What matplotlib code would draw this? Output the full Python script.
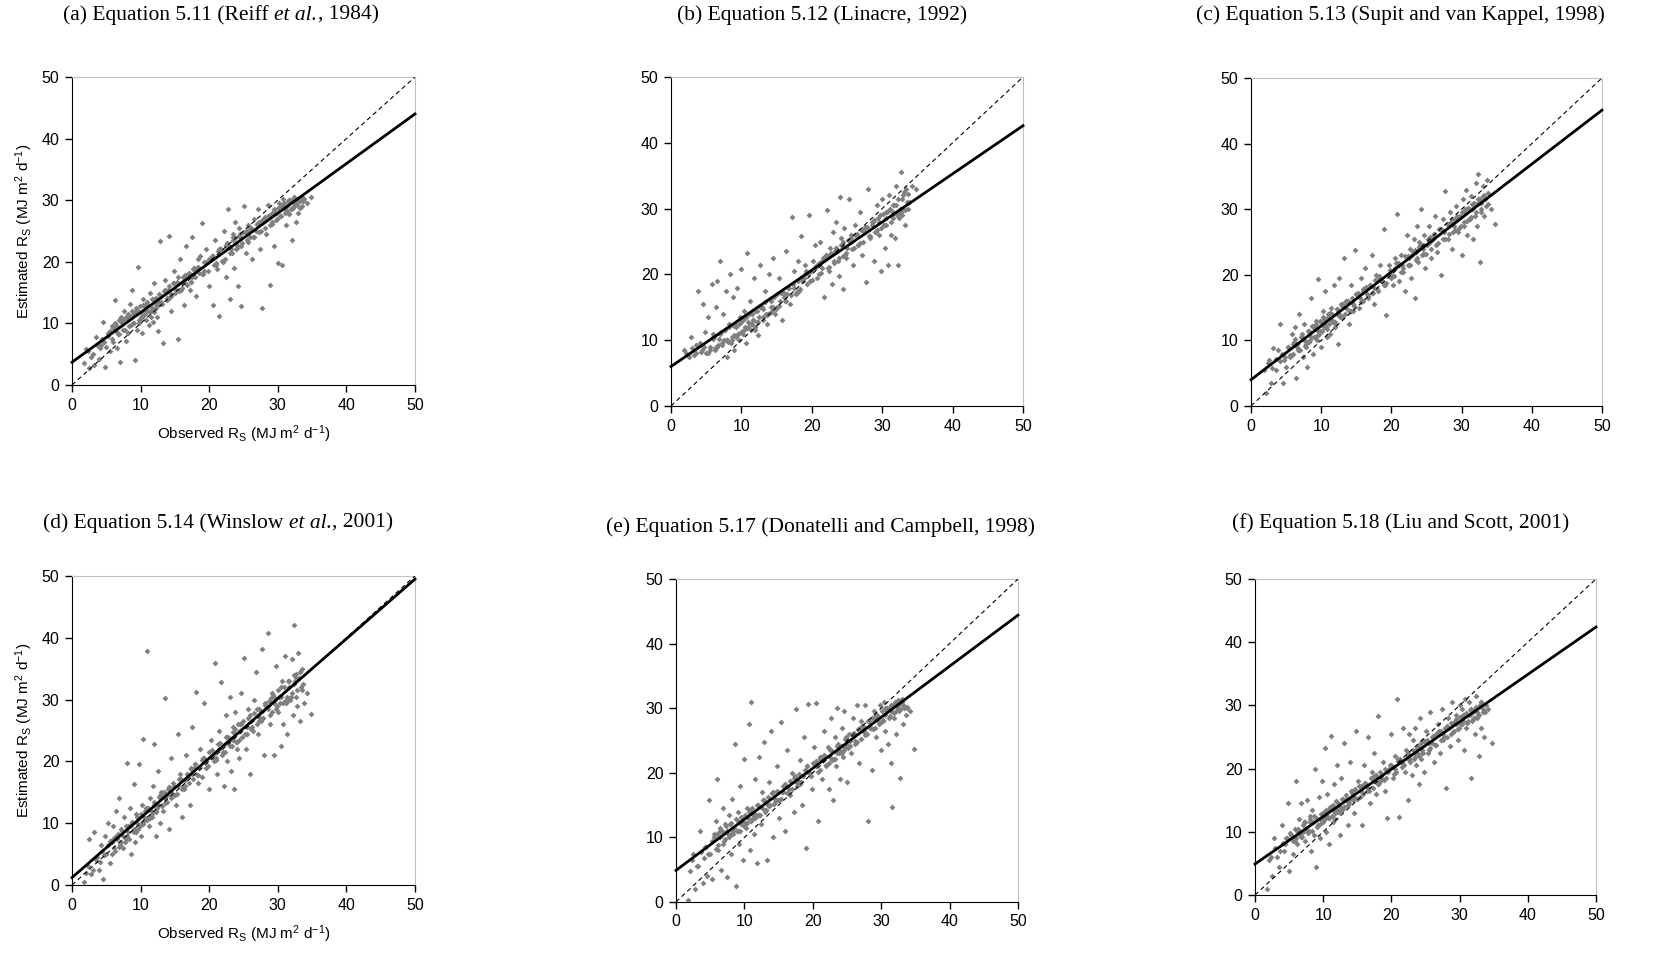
import numpy as np
import matplotlib
matplotlib.use('Agg')
import matplotlib.pyplot as plt

plt.rcParams['font.family'] = 'Liberation Sans'
plt.rcParams['mathtext.default'] = 'regular'

# observed Rs (same days for every panel)
observed = [
    1.8, 2.1, 2.5, 2.8, 3.2, 3.5, 3.9, 4.2, 4.5, 4.8,
    5.0, 5.3, 5.5, 5.8, 6.0, 6.2, 6.4, 6.6, 6.8, 7.0,
    7.2, 7.4, 7.6, 7.8, 8.0, 8.2, 8.4, 8.6, 8.8, 9.0,
    9.2, 9.4, 9.6, 9.8, 10.0, 10.2, 10.4, 10.6, 10.8, 11.0,
    11.2, 11.4, 11.6, 11.8, 12.0, 12.2, 12.4, 12.6, 12.8, 13.0,
    13.3, 13.6, 13.9, 14.2, 14.5, 14.8, 15.1, 15.4, 15.7, 16.0,
    16.3, 16.6, 16.9, 17.2, 17.5, 17.8, 18.1, 18.4, 18.7, 19.0,
    19.3, 19.6, 19.9, 20.2, 20.5, 20.8, 21.1, 21.4, 21.7, 22.0,
    22.2, 22.4, 22.6, 22.8, 23.0, 23.2, 23.4, 23.6, 23.8, 24.0,
    24.2, 24.4, 24.6, 24.8, 25.0, 25.3, 25.6, 25.9, 26.2, 26.5,
    26.8, 27.1, 27.4, 27.7, 28.0, 28.3, 28.6, 28.9, 29.2, 29.5,
    29.8, 30.0, 30.2, 30.4, 30.6, 30.8, 31.0, 31.2, 31.4, 31.6,
    31.8, 32.0, 32.2, 32.4, 32.6, 32.8, 33.0, 33.2, 33.4, 33.6,
    6.5, 7.5, 8.5, 9.5, 10.5, 11.5, 12.5, 13.5, 14.5, 15.5,
    16.5, 17.5, 18.5, 19.5, 20.5, 21.5, 22.5, 23.5, 24.5, 25.5,
    27.5, 28.5, 29.5, 30.5, 31.5, 32.5, 33.8, 34.2, 34.8, 12.0,
    5.2, 5.9, 6.3, 6.9, 7.3, 7.7, 8.1, 8.3, 8.7, 9.1,
    9.3, 9.7, 9.9, 10.1, 10.3, 10.7, 10.9, 11.1, 11.3, 11.7,
    11.9, 12.3, 12.7, 13.1, 13.4, 13.8, 14.1, 14.4, 14.7, 15.0,
    15.3, 15.9, 16.2, 16.7, 17.0, 17.3, 17.7, 18.0, 18.3, 18.9,
    19.2, 19.8, 20.4, 21.0, 21.6, 22.3, 22.7, 23.1, 23.5, 23.9,
    24.3, 24.7, 25.2, 25.7, 26.1, 26.6, 27.0, 27.3, 27.9, 28.2,
    28.7, 29.1, 29.4, 29.9, 30.1, 30.3, 30.9, 31.3, 31.7, 32.1,
    32.3, 32.7, 33.1, 33.5, 2.4, 3.0, 3.6, 4.1, 4.4, 4.7,
    5.6, 6.1, 6.7, 7.1, 7.9, 8.9, 9.5, 10.4, 10.8, 11.5,
    12.2, 12.9, 13.6, 14.2, 14.9, 15.6, 16.4, 17.4, 18.2, 19.1,
    20.0, 20.7, 21.3, 21.9, 22.5, 23.3, 23.7, 24.1, 24.9, 25.5,
    26.0, 26.4, 26.9, 27.6, 28.1, 28.8, 29.3, 29.7, 30.5, 31.1,
    31.5, 31.9, 32.4, 32.8, 33.2, 33.7, 6.0, 8.0, 10.0, 14.0,
    16.0, 18.0, 21.0, 24.5, 27.2, 29.0, 30.7, 32.6, 9.0, 13.0]

est_a = [
    3.5, 5.8, 2.8, 4.5, 3.2, 7.8, 4.2, 6.5, 10.3, 3.0,
    6.2, 8.0, 5.5, 9.5, 7.0, 13.8, 8.8, 6.0, 10.5, 3.8,
    11.0, 9.0, 12.0, 7.2, 10.8, 8.5, 13.2, 9.8, 15.5, 11.5,
    4.0, 12.5, 19.2, 10.0, 11.8, 8.5, 14.0, 12.2, 10.5, 13.0,
    9.8, 15.0, 12.5, 10.2, 16.5, 13.0, 11.0, 8.8, 23.3, 14.5,
    6.8, 17.0, 14.2, 24.2, 12.0, 18.5, 15.5, 7.5, 20.5, 16.8,
    13.0, 22.5, 18.0, 15.5, 24.0, 19.0, 14.5, 20.5, 21.0, 26.3,
    18.5, 22.0, 16.0, 20.5, 13.0, 23.5, 18.8, 11.2, 22.0, 20.0,
    25.0, 17.5, 23.0, 28.5, 14.0, 22.0, 24.5, 19.0, 26.5, 22.8,
    16.0, 25.5, 12.8, 23.0, 29.0, 21.5, 26.0, 24.0, 20.5, 27.0,
    25.0, 28.5, 22.0, 12.5, 27.0, 24.5, 29.2, 16.3, 26.5, 22.5,
    28.0, 19.8, 29.5, 27.5, 19.5, 30.2, 28.5, 26.0, 29.0, 27.8,
    30.0, 23.5, 28.8, 29.5, 26.5, 30.0, 28.0, 29.8, 30.5, 29.0,
    9.5, 10.5, 11.2, 9.0, 12.8, 11.0, 13.5, 15.2, 14.8, 17.5,
    16.5, 17.5, 18.2, 20.0, 21.0, 22.0, 22.5, 24.0, 24.5, 25.0,
    26.5, 27.5, 28.5, 29.0, 28.0, 29.2, 30.2, 29.5, 30.5, 11.8,
    8.5, 7.5, 10.0, 8.2, 10.5, 9.0, 11.5, 9.5, 12.0, 10.0,
    12.0, 10.5, 12.8, 11.0, 13.0, 11.5, 13.5, 12.0, 11.8, 14.0,
    14.0, 12.5, 14.8, 13.2, 15.2, 13.8, 16.0, 14.5, 16.5, 15.0,
    16.8, 15.5, 17.5, 16.2, 18.2, 16.8, 18.8, 17.5, 19.2, 18.0,
    20.0, 18.5, 21.0, 19.5, 22.0, 20.5, 22.8, 21.5, 23.5, 22.0,
    24.2, 22.5, 24.8, 23.2, 25.5, 24.0, 26.2, 24.8, 27.0, 25.5,
    27.5, 26.2, 28.2, 27.0, 28.8, 27.5, 29.5, 28.2, 30.0, 28.8,
    30.2, 29.5, 29.8, 30.5, 5.5, 5.0, 6.5, 6.0, 7.5, 7.0,
    8.8, 9.5, 8.2, 10.2, 11.0, 10.0, 12.2, 11.2, 13.2, 12.0,
    14.2, 13.2, 15.5, 14.2, 16.5, 15.2, 17.8, 16.8, 19.0, 18.0,
    20.5, 19.5, 21.8, 20.2, 22.8, 21.5, 23.8, 22.2, 24.8, 23.5,
    25.5, 24.0, 26.2, 25.0, 27.2, 26.0, 28.0, 26.8, 29.0, 28.0,
    29.8, 28.5, 30.5, 29.2, 28.8, 29.8, 9.2, 10.8, 10.8, 15.5,
    15.8, 18.8, 19.8, 24.0, 26.5, 27.8, 29.2, 30.2, 11.5, 13.5]

est_b = [
    8.5, 8.0, 7.5, 10.5, 7.8, 9.2, 17.5, 8.2, 15.5, 11.2,
    8.0, 13.5, 9.0, 18.5, 11.0, 8.5, 15.0, 19.0, 10.2, 22.0,
    9.5, 14.0, 11.5, 17.5, 7.5, 12.5, 20.0, 10.0, 16.5, 8.5,
    12.0, 18.0, 10.0, 13.5, 20.8, 11.0, 14.5, 9.5, 23.2, 12.8,
    16.0, 11.5, 13.0, 19.5, 12.0, 14.5, 10.8, 21.5, 15.0, 13.0,
    17.5, 12.5, 20.0, 15.0, 22.5, 14.0, 17.0, 19.5, 13.0, 16.5,
    23.5, 18.0, 15.5, 28.7, 20.5, 17.0, 22.0, 25.8, 19.0, 21.5,
    18.5, 29.0, 20.5, 22.0, 24.5, 19.5, 25.0, 21.0, 16.5, 23.0,
    29.8, 20.5, 24.0, 18.5, 26.5, 22.0, 28.0, 23.5, 19.8, 31.8,
    25.5, 17.8, 27.0, 22.5, 24.0, 31.5, 26.0, 21.5, 27.5, 24.5,
    29.5, 23.0, 27.0, 18.8, 33.0, 25.5, 28.0, 22.0, 30.5, 26.0,
    20.5, 31.5, 27.5, 24.0, 29.5, 21.5, 32.0, 26.0, 29.0, 30.5,
    25.5, 33.5, 21.5, 28.5, 35.5, 29.0, 32.0, 27.5, 33.0, 30.0,
    9.0, 10.0, 9.5, 11.0, 12.0, 12.5, 13.5, 14.0, 15.0, 16.0,
    17.0, 18.0, 19.5, 20.0, 21.0, 22.0, 23.0, 24.0, 25.0, 25.0,
    26.5, 27.5, 28.0, 28.5, 29.5, 30.0, 31.0, 33.5, 33.0, 11.5,
    8.0, 10.5, 8.8, 11.0, 9.2, 11.5, 9.8, 12.0, 10.5, 12.5,
    10.5, 12.5, 11.2, 13.0, 11.5, 13.5, 12.0, 14.0, 12.5, 13.0,
    14.5, 12.8, 15.0, 13.5, 15.8, 14.0, 16.2, 14.5, 16.5, 15.0,
    15.2, 17.2, 16.0, 18.0, 16.8, 18.5, 17.2, 19.0, 17.8, 19.5,
    20.5, 19.0, 21.2, 20.0, 22.5, 21.0, 23.2, 21.8, 24.0, 22.5,
    24.5, 23.0, 25.2, 23.8, 26.0, 24.5, 26.8, 25.0, 27.2, 25.8,
    28.0, 26.5, 28.5, 27.0, 29.2, 27.5, 29.8, 28.0, 30.5, 29.0,
    31.5, 30.0, 32.5, 31.0, 7.8, 8.8, 8.0, 9.5, 8.5, 9.0,
    8.5, 10.5, 9.2, 11.2, 10.0, 12.2, 11.0, 13.2, 11.8, 14.0,
    12.8, 15.0, 13.8, 16.0, 14.8, 17.2, 16.0, 18.5, 17.5, 20.0,
    19.2, 21.5, 20.2, 22.5, 21.2, 23.5, 22.0, 24.5, 23.2, 25.5,
    24.0, 26.2, 24.8, 27.2, 25.8, 28.2, 26.8, 29.0, 27.5, 30.0,
    28.5, 30.5, 29.2, 31.5, 29.8, 32.2, 10.2, 10.0, 12.8, 14.2,
    17.2, 17.5, 21.8, 22.8, 26.8, 26.5, 29.5, 29.5, 10.8, 14.8]

est_c = [
    5.5, 2.0, 7.0, 3.5, 8.8, 5.5, 8.5, 12.5, 3.5, 7.5,
    6.0, 9.0, 7.5, 11.0, 8.0, 12.0, 4.2, 9.5, 14.0, 8.5,
    10.5, 7.5, 12.5, 9.0, 6.0, 11.5, 10.0, 16.5, 8.0, 12.0,
    13.0, 10.0, 19.3, 11.5, 9.0, 14.5, 12.0, 17.5, 10.5, 13.5,
    11.0, 15.0, 13.0, 18.5, 12.0, 14.0, 9.5, 19.5, 15.5, 13.5,
    22.5, 16.0, 12.5, 18.5, 14.5, 23.8, 17.0, 15.0, 19.5, 17.5,
    21.0, 16.5, 18.5, 23.0, 15.5, 20.0, 17.5, 21.5, 19.0, 27.0,
    13.8, 21.5, 20.0, 18.5, 22.5, 29.2, 19.0, 23.0, 21.0, 17.5,
    26.0, 21.5, 24.0, 19.5, 23.0, 25.5, 16.5, 27.5, 22.0, 25.0,
    30.0, 23.0, 26.0, 21.0, 24.5, 27.5, 22.5, 25.5, 29.0, 23.5,
    27.0, 20.0, 28.5, 32.8, 25.5, 29.5, 24.0, 27.5, 30.5, 26.5,
    29.0, 23.0, 31.5, 27.5, 33.0, 26.0, 30.0, 28.5, 32.0, 25.5,
    30.5, 34.0, 27.5, 35.3, 22.0, 31.0, 33.5, 29.0, 31.5, 34.5,
    9.0, 10.0, 10.5, 11.5, 12.5, 13.0, 14.0, 15.0, 15.5, 16.5,
    17.0, 18.0, 19.0, 20.0, 21.0, 21.5, 22.5, 23.5, 24.0, 25.0,
    26.5, 28.0, 28.5, 29.5, 30.0, 31.5, 32.5, 30.0, 27.8, 12.5,
    9.0, 7.8, 10.2, 8.5, 11.0, 9.2, 11.5, 9.8, 12.2, 10.5,
    12.5, 11.0, 13.0, 11.5, 13.5, 12.0, 14.0, 12.5, 14.2, 13.0,
    12.8, 14.8, 13.5, 15.5, 14.0, 16.0, 14.5, 16.5, 15.2, 17.0,
    17.2, 16.0, 18.0, 16.8, 18.5, 17.2, 19.2, 17.8, 19.5, 18.5,
    18.8, 20.8, 19.8, 21.8, 20.5, 22.8, 21.5, 23.5, 22.2, 24.2,
    24.5, 23.2, 25.5, 24.0, 26.2, 24.8, 27.0, 25.5, 27.8, 26.2,
    28.5, 26.8, 29.0, 27.5, 29.5, 28.0, 30.2, 28.8, 31.0, 29.5,
    31.0, 29.5, 32.0, 30.5, 6.5, 5.8, 7.2, 6.8, 8.0, 7.0,
    7.8, 9.8, 8.5, 10.5, 9.5, 12.0, 10.8, 13.2, 11.8, 14.0,
    14.8, 13.5, 16.0, 14.5, 17.0, 15.8, 18.2, 17.2, 19.8, 18.5,
    19.5, 21.8, 20.5, 22.8, 21.5, 23.8, 22.5, 24.5, 23.2, 25.8,
    26.2, 24.5, 27.0, 25.5, 27.8, 26.5, 28.8, 27.2, 30.0, 28.5,
    30.8, 29.0, 31.5, 30.0, 32.2, 30.8, 9.5, 9.8, 12.8, 14.5,
    17.8, 17.8, 21.8, 23.2, 26.8, 28.5, 28.2, 31.5, 10.5, 15.2]

est_d = [
    0.5, 2.0, 7.5, 1.8, 8.5, 4.0, 2.5, 6.5, 1.0, 8.0,
    5.0, 10.0, 3.5, 7.0, 9.5, 5.5, 12.0, 8.0, 14.0, 6.5,
    9.0, 6.0, 11.0, 7.5, 19.8, 8.5, 12.5, 5.0, 10.0, 16.3,
    7.0, 11.5, 9.0, 19.5, 8.0, 13.0, 23.7, 10.5, 12.0, 37.8,
    9.5, 14.0, 11.0, 16.0, 22.8, 8.0, 12.5, 18.5, 10.0, 15.0,
    12.0, 30.2, 14.5, 9.0, 20.5, 16.0, 13.0, 24.5, 18.0, 11.0,
    15.5, 21.0, 17.5, 13.0, 25.5, 19.0, 31.3, 16.5, 22.0, 17.5,
    29.5, 19.0, 15.5, 23.5, 20.5, 36.0, 18.0, 25.0, 32.9, 21.5,
    16.0, 27.5, 20.0, 23.0, 30.5, 18.5, 25.5, 15.5, 28.0, 22.0,
    26.0, 20.5, 31.0, 24.0, 36.8, 22.0, 28.5, 18.0, 25.5, 30.0,
    34.5, 24.5, 27.0, 38.2, 21.0, 29.0, 40.7, 26.0, 31.0, 21.0,
    35.5, 28.0, 30.5, 22.5, 33.0, 26.0, 37.0, 29.5, 24.5, 32.0,
    30.0, 36.5, 27.5, 42.0, 33.5, 29.0, 37.5, 26.5, 32.0, 35.0,
    7.5, 8.0, 9.5, 10.0, 11.0, 12.0, 13.0, 14.0, 15.0, 16.0,
    17.0, 18.0, 19.0, 20.0, 21.0, 22.0, 23.0, 23.5, 25.0, 25.5,
    28.0, 28.5, 29.5, 30.5, 30.0, 33.0, 29.5, 31.0, 27.7, 13.0,
    6.5, 5.0, 7.8, 6.2, 8.8, 7.0, 9.5, 7.5, 10.2, 8.5,
    8.5, 10.8, 9.5, 11.5, 9.8, 12.0, 10.5, 12.5, 10.8, 11.5,
    13.5, 11.8, 14.2, 12.8, 15.0, 13.5, 15.8, 14.0, 16.5, 14.5,
    14.8, 17.2, 15.8, 18.0, 16.5, 18.8, 17.2, 19.5, 17.8, 20.2,
    20.5, 19.2, 21.8, 20.2, 23.0, 21.5, 24.0, 22.5, 24.8, 23.2,
    23.5, 26.0, 24.5, 27.0, 25.2, 27.8, 26.0, 28.5, 27.0, 29.2,
    29.8, 28.0, 30.5, 29.0, 31.5, 29.5, 32.0, 30.5, 33.0, 31.0,
    32.5, 30.5, 33.5, 31.5, 3.0, 2.5, 4.5, 3.8, 5.5, 4.8,
    7.2, 6.0, 8.2, 7.0, 9.5, 8.8, 11.0, 10.2, 12.5, 11.2,
    12.0, 14.5, 13.2, 15.8, 14.5, 17.2, 16.0, 19.0, 17.8, 20.5,
    21.5, 20.0, 22.8, 21.0, 24.0, 22.5, 25.2, 23.2, 26.5, 24.5,
    27.5, 25.0, 28.5, 26.5, 29.5, 27.5, 30.8, 28.5, 32.0, 29.8,
    33.0, 30.5, 34.0, 31.5, 34.5, 32.5, 7.5, 8.0, 9.8, 15.5,
    15.5, 19.5, 20.5, 26.0, 26.5, 30.2, 29.5, 34.2, 9.0, 14.5]

est_e = [
    0.3, 4.8, 7.5, 2.0, 5.5, 11.0, 3.0, 8.5, 4.0, 15.8,
    7.5, 3.5, 10.5, 12.5, 19.0, 8.0, 11.5, 5.0, 14.5, 9.5,
    12.0, 3.8, 10.5, 13.5, 7.5, 16.0, 11.0, 24.5, 2.5, 14.0,
    9.0, 18.0, 12.5, 6.5, 22.2, 11.5, 14.5, 27.5, 8.0, 31.0,
    13.5, 10.5, 19.0, 6.0, 15.0, 22.5, 12.0, 17.0, 24.8, 14.0,
    6.5, 18.5, 26.5, 10.0, 15.5, 21.0, 13.0, 27.8, 17.0, 11.0,
    23.5, 16.5, 20.0, 14.0, 29.8, 18.5, 22.0, 15.0, 25.5, 8.3,
    30.7, 20.0, 17.5, 24.0, 30.8, 12.5, 22.5, 19.0, 26.5, 21.0,
    24.0, 17.5, 28.5, 22.0, 15.8, 25.5, 21.0, 30.0, 23.5, 19.0,
    27.0, 22.5, 29.5, 24.5, 18.5, 26.0, 23.0, 28.5, 25.0, 30.5,
    21.5, 28.0, 26.5, 30.5, 12.5, 27.0, 20.5, 29.5, 25.5, 28.5,
    30.5, 23.5, 28.0, 31.0, 26.5, 29.5, 24.5, 30.0, 21.5, 14.7,
    28.5, 31.0, 26.0, 30.0, 29.5, 19.2, 31.5, 27.5, 30.0, 29.0,
    10.0, 11.0, 11.5, 12.0, 13.0, 13.5, 14.5, 15.0, 16.0, 17.0,
    17.5, 18.5, 19.5, 20.0, 21.0, 22.0, 22.5, 23.0, 24.0, 25.0,
    26.5, 27.0, 28.0, 29.0, 29.5, 30.5, 30.0, 29.5, 23.7, 13.5,
    9.5, 8.2, 10.8, 9.0, 11.8, 10.0, 12.3, 10.5, 12.8, 11.0,
    11.0, 13.0, 11.8, 13.5, 12.2, 14.0, 12.5, 14.5, 13.0, 13.5,
    15.0, 13.5, 15.8, 14.2, 16.2, 15.0, 16.8, 15.2, 17.2, 15.8,
    16.0, 18.0, 16.8, 18.8, 17.5, 19.2, 18.0, 19.8, 18.5, 20.5,
    21.0, 19.5, 21.8, 20.5, 22.8, 21.5, 23.5, 22.2, 24.2, 23.0,
    23.0, 25.2, 23.8, 26.0, 24.5, 26.8, 25.2, 27.2, 26.0, 28.0,
    28.5, 27.0, 29.0, 27.8, 29.5, 28.2, 30.0, 28.8, 30.5, 29.5,
    30.5, 29.8, 31.0, 30.2, 6.5, 5.5, 7.8, 6.8, 8.5, 7.5,
    10.0, 8.8, 11.0, 9.8, 12.0, 11.0, 13.2, 12.2, 14.2, 13.0,
    13.5, 15.8, 14.8, 17.0, 15.8, 18.0, 17.0, 19.5, 18.2, 21.0,
    21.5, 20.2, 22.5, 21.2, 23.5, 22.2, 24.5, 23.0, 25.5, 24.2,
    26.2, 24.8, 27.0, 25.8, 28.0, 26.8, 29.0, 27.5, 30.0, 28.5,
    30.5, 29.2, 31.2, 29.8, 30.5, 30.2, 10.5, 10.5, 12.0, 16.8,
    18.2, 18.5, 22.2, 23.5, 27.2, 28.5, 29.8, 30.8, 12.5, 14.2]

est_f = [
    1.0, 5.5, 3.0, 9.0, 6.0, 4.5, 11.0, 7.0, 9.0, 14.5,
    3.8, 9.5, 6.5, 10.5, 18.0, 8.0, 12.0, 9.5, 14.5, 10.0,
    11.5, 8.5, 15.0, 10.0, 12.5, 7.0, 13.5, 9.5, 20.0, 4.5,
    11.0, 15.5, 9.0, 18.0, 13.0, 23.2, 10.0, 16.0, 8.0, 14.0,
    25.2, 11.5, 17.5, 12.0, 20.5, 14.5, 9.5, 18.5, 13.5, 24.0,
    15.0, 11.0, 21.0, 16.5, 13.0, 26.0, 18.0, 15.5, 11.0, 20.5,
    17.5, 25.0, 14.5, 19.5, 22.5, 16.0, 28.3, 18.0, 21.0, 16.5,
    12.2, 20.0, 25.5, 18.5, 22.0, 31.0, 12.3, 21.0, 26.5, 19.5,
    23.0, 15.0, 25.5, 21.5, 19.0, 24.5, 26.5, 20.5, 22.5, 17.5,
    28.0, 21.5, 24.5, 19.5, 26.0, 22.5, 29.0, 24.0, 21.0, 25.5,
    27.0, 22.5, 29.5, 25.0, 17.0, 28.0, 23.5, 30.5, 26.0, 28.5,
    24.5, 30.0, 27.0, 29.5, 23.0, 31.0, 26.5, 28.5, 30.5, 18.5,
    27.5, 29.0, 25.5, 31.5, 28.0, 22.0, 30.0, 26.5, 29.5, 25.0,
    10.0, 10.5, 11.5, 12.0, 12.5, 13.5, 14.0, 15.0, 15.5, 16.5,
    17.0, 18.0, 18.5, 19.5, 20.0, 21.0, 21.5, 22.5, 23.0, 24.0,
    25.5, 26.5, 27.0, 27.5, 28.5, 29.0, 30.0, 29.5, 24.0, 13.5,
    9.8, 8.5, 10.5, 9.2, 11.5, 9.8, 12.0, 10.2, 12.5, 10.8,
    11.0, 12.8, 11.5, 13.2, 12.0, 13.5, 12.2, 14.0, 12.5, 13.0,
    14.8, 13.2, 15.2, 14.0, 15.8, 14.5, 16.5, 15.0, 16.8, 15.2,
    17.2, 16.0, 17.8, 16.5, 18.5, 17.0, 19.0, 17.5, 19.5, 18.2,
    18.5, 20.5, 19.2, 21.5, 20.2, 22.2, 21.0, 23.0, 21.8, 23.5,
    24.0, 22.5, 24.5, 23.2, 25.2, 23.8, 26.0, 24.5, 26.5, 25.0,
    27.2, 25.8, 27.8, 26.5, 28.2, 27.0, 28.8, 27.5, 29.5, 28.0,
    29.5, 28.5, 30.5, 29.0, 6.0, 7.5, 7.0, 8.2, 8.0, 9.0,
    8.5, 10.2, 9.2, 11.0, 10.2, 12.2, 11.2, 13.5, 12.2, 14.2,
    13.2, 15.2, 14.2, 16.2, 15.2, 17.2, 16.5, 18.8, 17.8, 20.0,
    20.5, 19.5, 21.5, 20.5, 22.5, 21.5, 23.2, 22.0, 24.2, 23.0,
    25.0, 23.8, 25.8, 24.5, 26.8, 25.5, 27.5, 26.2, 28.5, 27.2,
    29.2, 27.8, 29.8, 28.5, 30.5, 29.0, 9.0, 11.5, 12.5, 15.2,
    17.5, 17.5, 21.2, 22.5, 26.0, 27.0, 28.5, 28.2, 12.2, 14.0]

estimated = [est_a, est_b, est_c, est_d, est_e, est_f]

# fitted regression lines
fit_intercept = [3.7, 6.0, 4.0, 1.2, 4.9, 4.9]
fit_slope = [0.806, 0.732, 0.822, 0.966, 0.790, 0.750]

# titles as (text, italic) pieces
titles = [
    [('(a) Equation 5.11 (Reiff ', False), ('et al.', True), (', 1984)', False)],
    [('(b) Equation 5.12 (Linacre, 1992)', False)],
    [('(c) Equation 5.13 (Supit and van Kappel, 1998)', False)],
    [('(d) Equation 5.14 (Winslow ', False), ('et al.', True), (', 2001)', False)],
    [('(e) Equation 5.17 (Donatelli and Campbell, 1998)', False)],
    [('(f) Equation 5.18 (Liu and Scott, 2001)', False)],
]
ticks = [0, 10, 20, 30, 40, 50]

W, H = 1655, 957
# axes boxes in pixels (left, top, right, bottom)
boxes = [(72, 77, 415, 385), (671, 77, 1023, 406), (1251, 78, 1602, 406),
         (72, 576, 415, 885), (676, 579, 1018, 902), (1255, 579, 1596, 895)]
title_xy = [(221, 15), (822, 15), (1400, 15), (218, 523), (821, 527), (1401, 523)]

fig = plt.figure(figsize=(W / 100, H / 100), dpi=100)
renderer = fig.canvas.get_renderer()


def draw_title(cx, cy, pieces):
    # lay the pieces side by side, then centre the whole line on cx
    texts = []
    for s, it in pieces:
        t = fig.text(0, 1 - cy / H, s, ha='left', va='center',
                     family='Liberation Serif', fontsize=15.5,
                     style='italic' if it else 'normal')
        texts.append(t)
    widths = [t.get_window_extent(renderer).width for t in texts]
    x = cx - sum(widths) / 2
    for t, w in zip(texts, widths):
        t.set_x(x / W)
        x += w


for i in range(6):
    l, t, r, b = boxes[i]
    ax = fig.add_axes([l / W, 1 - b / H, (r - l) / W, (b - t) / H])
    ax.scatter(observed, estimated[i], marker='D', s=9, color='#808080',
               linewidths=0, zorder=2)
    ax.plot([0, 50], [0, 50], color='black', lw=0.8, ls=(0, (4, 3)), zorder=3)
    xs = np.array([0, 50])
    ax.plot(xs, fit_intercept[i] + fit_slope[i] * xs, color='black', lw=2,
            zorder=4, clip_on=False)
    ax.set_xlim(0, 50)
    ax.set_ylim(0, 50)
    ax.set_xticks(ticks)
    ax.set_yticks(ticks)
    ax.tick_params(direction='out', length=5, width=1, labelsize=11.5, pad=4)
    for s in ['top', 'right']:
        ax.spines[s].set_color('#c0c0c0')
    for s in ['left', 'bottom']:
        ax.spines[s].set_color('black')
    if i in (0, 3):
        ax.set_ylabel('Estimated R$_S$ (MJ m$^2$ d$^{-1}$)', fontsize=11, labelpad=5)
        ax.set_xlabel('Observed R$_S$ (MJ m$^2$ d$^{-1}$)', fontsize=11, labelpad=8)
    cx, cy = title_xy[i]
    draw_title(cx, cy, titles[i])

fig.savefig('out.png', dpi=100)
